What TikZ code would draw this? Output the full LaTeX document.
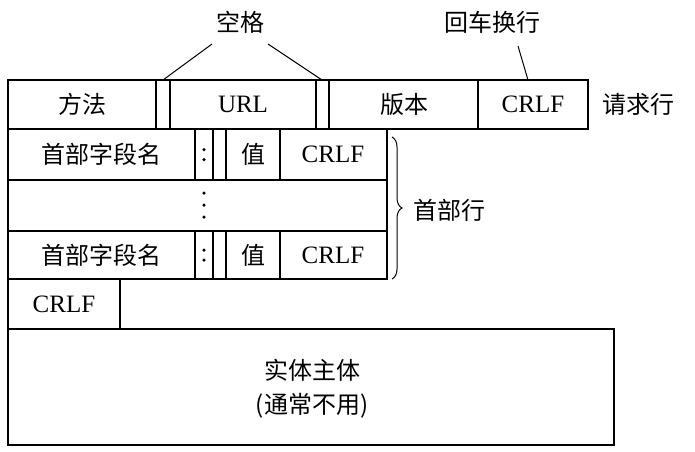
\documentclass[tikz,border=0pt]{standalone}
\usepackage{fontspec}
\setmainfont{Liberation Serif}
\newfontfamily\cjk{Noto Sans CJK SC}
\usetikzlibrary{decorations.pathreplacing}
\begin{document}
\begin{tikzpicture}[x=1pt,y=-1pt,line width=1.3pt,
  lbl/.style={font=\fontsize{24}{27}\selectfont\cjk, inner sep=0pt},
  lat/.style={font=\fontsize{25}{27}\selectfont, inner sep=0pt},
  dot/.style={circle,fill,inner sep=0pt,minimum size=3.5pt}]
\useasboundingbox (0,0) rectangle (695,451);
% request line
\draw (8,80) rectangle (588,129);
\foreach \x in {156,170,316,329,478} \draw (\x,80) -- (\x,129);
\node[lbl] (m) at (82,104) {方法};
\node[lat] (u) at (243,104) {URL};
\node[lbl] (v) at (404,104) {版本};
\node[lat] (c0) at (533,104) {CRLF};
\node[lbl,anchor=west] (qh) at (602,104) {请求行};
% labels above
\node[lbl] (kg) at (240,22) {空格};
\node[lbl] (hc) at (492,22) {回车换行};
\coordinate (k1) at (163,80); \coordinate (k2) at (322,80); \coordinate (hcend) at (528,80);
\draw[line width=1pt] (k1) -- (212,44);
\draw[line width=1pt] (k2) -- (268,44);
\draw[line width=1pt] (518,46) -- (hcend);
% header lines
\draw (8,129) rectangle (387,279);
\draw (8,180) -- (387,180);
\draw (8,231) -- (387,231);
\foreach \ya/\yb in {129/180,231/279}{
  \foreach \x in {195,213,226,280} \draw (\x,\ya) -- (\x,\yb);
  \node[lbl] at (101,{(\ya+\yb)/2}) {首部字段名};
  \node[dot] at (204,{(\ya+\yb)/2-5}) {};
  \node[dot] at (204,{(\ya+\yb)/2+5}) {};
  \node[lbl] at (253,{(\ya+\yb)/2}) {值};
  \node[lat] at (333,{(\ya+\yb)/2}) {CRLF};
}
\node[dot] (d1) at (204,193) {};
\node[dot] (d2) at (204,205) {};
\node[dot] (d3) at (204,217) {};
\draw[line width=1pt,decorate,decoration={brace,amplitude=10pt}] (392,137) -- (392,279);
\node[lbl,anchor=west] (sb) at (413,210) {首部行};
% CRLF line and body
\draw (8,279) rectangle (120,329);
\node[lat] (c2) at (64,304) {CRLF};
\draw (8,329) rectangle (614,445);
\node[lbl] (b1) at (312,370) {实体主体};
\node[lbl] (b2) at (312,406) {(通常不用)};
\end{tikzpicture}
\end{document}
